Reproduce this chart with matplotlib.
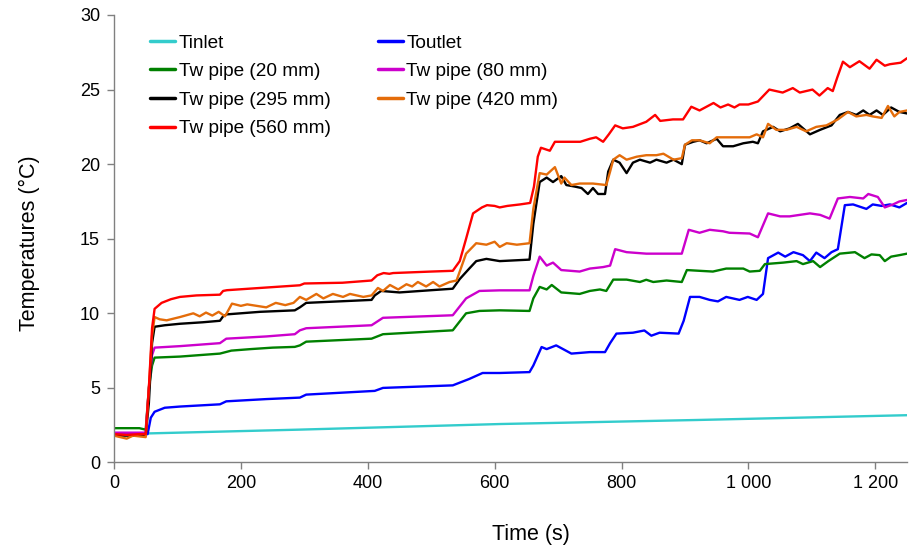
import matplotlib
matplotlib.use("Agg")
import matplotlib.pyplot as plt
from matplotlib.ticker import FuncFormatter, MultipleLocator

plt.rcParams['font.family'] = ['Liberation Sans', 'DejaVu Sans']

# ---- measured temperatures (°C) versus time (s) ----
t_inlet = [0, 55, 290, 610, 920, 1250]
T_inlet = [1.95, 1.95, 2.2, 2.58, 2.85, 3.17]

t_outlet = [0, 50, 53, 58, 64, 80, 104, 167, 177, 240, 293, 303, 411, 424, 534, 560,
            581, 608, 655, 661, 674, 682, 697, 721, 750, 774, 782, 792, 818, 836, 847,
            860, 890, 898, 908, 923, 939, 952, 965, 986, 999, 1013, 1023, 1031, 1047,
            1058, 1071, 1086, 1097, 1107, 1120, 1131, 1141, 1152, 1165, 1186, 1196,
            1210, 1223, 1238, 1250]
T_outlet = [1.9, 1.9, 1.9, 3.0, 3.4, 3.67, 3.75, 3.9, 4.1, 4.25, 4.35, 4.55, 4.8, 5.0,
            5.17, 5.6, 6.0, 6.0, 6.06, 6.5, 7.74, 7.6, 7.85, 7.3, 7.4, 7.4, 8.0, 8.64,
            8.7, 8.85, 8.5, 8.7, 8.64, 9.5, 11.1, 11.1, 10.9, 10.8, 11.1, 10.9, 11.1,
            10.9, 11.3, 13.7, 14.07, 13.8, 14.1, 13.9, 13.5, 14.07, 13.7, 14.1, 14.3,
            17.25, 17.3, 17.0, 17.3, 17.2, 17.3, 17.1, 17.4]

t_w20 = [0, 40, 50, 55, 60, 64, 104, 167, 185, 215, 250, 285, 293, 303, 406, 424, 534,
         555, 576, 608, 655, 661, 671, 682, 690, 705, 734, 750, 766, 776, 787, 808, 829,
         839, 850, 871, 895, 903, 923, 944, 965, 992, 1002, 1018, 1026, 1055, 1076,
         1086, 1102, 1113, 1126, 1144, 1168, 1183, 1194, 1207, 1215, 1225, 1238, 1250]
T_w20 = [2.3, 2.3, 2.2, 5.0, 6.5, 7.03, 7.1, 7.3, 7.5, 7.6, 7.7, 7.75, 7.85, 8.1, 8.3,
         8.6, 8.86, 10.0, 10.16, 10.2, 10.16, 11.0, 11.77, 11.6, 11.9, 11.4, 11.3, 11.5,
         11.6, 11.5, 12.26, 12.26, 12.1, 12.25, 12.1, 12.2, 12.1, 12.9, 12.85, 12.8,
         13.0, 13.0, 12.8, 12.85, 13.3, 13.4, 13.5, 13.3, 13.5, 13.1, 13.5, 14.0, 14.1,
         13.7, 13.95, 13.9, 13.5, 13.8, 13.9, 14.0]

t_w80 = [0, 50, 55, 60, 64, 104, 167, 177, 240, 285, 293, 303, 406, 424, 534, 555, 576,
         608, 655, 661, 671, 682, 692, 705, 734, 750, 771, 782, 790, 808, 839, 870, 895,
         906, 923, 939, 960, 970, 1002, 1015, 1031, 1050, 1065, 1081, 1097, 1113, 1128,
         1141, 1160, 1181, 1189, 1204, 1215, 1228, 1238, 1250]
T_w80 = [2.0, 2.0, 5.0, 7.2, 7.7, 7.8, 8.0, 8.3, 8.45, 8.6, 8.86, 9.0, 9.2, 9.7, 9.87,
         11.0, 11.5, 11.54, 11.54, 12.5, 13.8, 13.2, 13.4, 12.9, 12.8, 13.0, 13.1, 13.2,
         14.3, 14.1, 14.0, 14.0, 14.0, 15.6, 15.4, 15.6, 15.5, 15.4, 15.35, 15.1, 16.7,
         16.5, 16.5, 16.6, 16.7, 16.6, 16.35, 17.7, 17.8, 17.7, 18.0, 17.8, 17.1, 17.3,
         17.5, 17.6]

t_w295 = [0, 50, 55, 60, 64, 80, 104, 140, 167, 172, 178, 230, 285, 293, 303, 406, 411,
          421, 450, 500, 534, 545, 560, 571, 587, 608, 655, 661, 671, 682, 692, 705, 713,
          726, 737, 747, 755, 763, 774, 779, 787, 797, 808, 818, 829, 845, 855, 871, 882,
          895, 900, 913, 923, 934, 950, 960, 976, 992, 1007, 1015, 1023, 1039, 1050,
          1065, 1078, 1097, 1113, 1131, 1144, 1157, 1170, 1181, 1191, 1202, 1212, 1225,
          1238, 1250]
T_w295 = [1.8, 1.8, 4.0, 8.0, 9.1, 9.2, 9.3, 9.4, 9.5, 9.8, 9.93, 10.1, 10.2, 10.4, 10.7,
          10.9, 11.2, 11.5, 11.4, 11.55, 11.65, 12.3, 13.0, 13.5, 13.65, 13.5, 13.6,
          16.0, 18.8, 19.1, 18.8, 19.2, 18.6, 18.5, 18.4, 18.0, 18.4, 18.0, 18.0, 19.5,
          20.3, 20.1, 19.4, 20.1, 20.3, 20.1, 20.3, 20.1, 20.3, 20.0, 21.3, 21.5, 21.6,
          21.4, 21.7, 21.2, 21.2, 21.4, 21.5, 21.4, 22.2, 22.5, 22.2, 22.4, 22.7, 22.0,
          22.3, 22.6, 23.3, 23.5, 23.3, 23.6, 23.3, 23.6, 23.3, 23.8, 23.5, 23.4]

t_w420 = [0, 10, 20, 30, 40, 50, 55, 60, 64, 72, 83, 104, 125, 135, 145, 155, 165, 175,
          186, 200, 210, 240, 255, 270, 283, 293, 303, 319, 330, 345, 361, 372, 393, 406,
          416, 424, 435, 448, 461, 470, 479, 492, 503, 513, 529, 540, 555, 571, 587, 600,
          608, 619, 635, 655, 661, 671, 682, 695, 705, 710, 721, 734, 755, 776, 782, 787,
          797, 808, 824, 839, 855, 866, 882, 895, 900, 911, 923, 939, 950, 976, 1002,
          1013, 1023, 1031, 1044, 1060, 1076, 1091, 1107, 1123, 1141, 1157, 1170, 1186,
          1196, 1210, 1220, 1230, 1238, 1250]
T_w420 = [1.8, 1.7, 1.6, 1.8, 1.75, 1.7, 5.0, 8.5, 9.75, 9.6, 9.53, 9.75, 10.0, 9.8,
          10.05, 9.85, 10.1, 9.8, 10.65, 10.5, 10.6, 10.4, 10.7, 10.55, 10.7, 11.1, 10.9,
          11.3, 11.0, 11.3, 11.1, 11.3, 11.1, 11.2, 11.7, 11.5, 11.9, 11.6, 11.95, 11.8,
          12.1, 11.8, 12.1, 11.8, 12.1, 12.2, 14.0, 14.7, 14.6, 14.8, 14.45, 14.7, 14.6,
          14.7, 17.0, 19.4, 19.3, 19.8, 18.7, 19.1, 18.6, 18.7, 18.7, 18.6, 19.5, 20.3,
          20.6, 20.3, 20.5, 20.6, 20.6, 20.7, 20.3, 20.4, 21.3, 21.6, 21.6, 21.4, 21.8,
          21.8, 21.8, 22.0, 21.8, 22.7, 22.3, 22.3, 22.5, 22.2, 22.5, 22.6, 23.0, 23.5,
          23.2, 23.3, 23.2, 23.1, 23.9, 23.2, 23.5, 23.6]

t_w560 = [0, 20, 40, 50, 55, 60, 64, 75, 90, 104, 130, 167, 172, 178, 230, 293, 300,
          360, 406, 415, 425, 434, 440, 500, 534, 545, 555, 566, 580, 588, 600, 608, 620,
          640, 656, 662, 668, 673, 687, 695, 735, 750, 760, 771, 780, 790, 802, 818, 839,
          853, 861, 881, 897, 910, 923, 945, 956, 968, 978, 986, 1000, 1015, 1033, 1054,
          1070, 1081, 1101, 1112, 1125, 1133, 1140, 1149, 1160, 1175, 1191, 1202, 1215,
          1223, 1240, 1250]
T_w560 = [1.9, 1.85, 1.9, 1.9, 5.0, 9.0, 10.3, 10.7, 10.95, 11.1, 11.2, 11.25, 11.5,
          11.55, 11.7, 11.88, 12.0, 12.05, 12.2, 12.55, 12.7, 12.65, 12.7, 12.8, 12.85,
          13.5, 15.0, 16.7, 17.1, 17.25, 17.2, 17.1, 17.2, 17.3, 17.4, 18.5, 20.5, 21.1,
          20.9, 21.5, 21.5, 21.7, 21.8, 21.5, 22.0, 22.6, 22.4, 22.5, 22.84, 23.3, 22.9,
          23.0, 23.0, 23.85, 23.6, 24.1, 23.8, 24.0, 23.8, 24.0, 24.0, 24.2, 25.0, 24.8,
          25.1, 24.8, 25.0, 24.6, 25.1, 24.9, 25.8, 26.87, 26.5, 26.9, 26.4, 27.0, 26.6,
          26.7, 26.8, 27.1]

series = [
    ("Tinlet", t_inlet, T_inlet, "#33CCCC"),
    ("Toutlet", t_outlet, T_outlet, "#0000FF"),
    ("Tw pipe (20 mm)", t_w20, T_w20, "#008000"),
    ("Tw pipe (80 mm)", t_w80, T_w80, "#CC00CC"),
    ("Tw pipe (295 mm)", t_w295, T_w295, "#000000"),
    ("Tw pipe (420 mm)", t_w420, T_w420, "#E46C0A"),
    ("Tw pipe (560 mm)", t_w560, T_w560, "#FF0000"),
]

fig = plt.figure(figsize=(9.09, 5.47), dpi=100)
ax = fig.add_axes([0.1254, 0.1545, 0.8724, 0.8181])

lines = []
for name, t, T, col in series:
    ln, = ax.plot(t, T, color=col, lw=1.7, solid_joinstyle='round',
                  solid_capstyle='round', label=name)
    lines.append(ln)

ax.set_xlim(0, 1250)
ax.set_ylim(0, 30)
ax.xaxis.set_major_locator(MultipleLocator(200))
ax.yaxis.set_major_locator(MultipleLocator(5))
ax.xaxis.set_major_formatter(FuncFormatter(lambda v, p: f"{int(v):,}".replace(",", " ")))

for s in ("top", "right"):
    ax.spines[s].set_visible(False)
for s in ("left", "bottom"):
    ax.spines[s].set_color("#808080")
    ax.spines[s].set_linewidth(1.0)
ax.tick_params(axis="both", colors="#808080", labelcolor="black", labelsize=13,
               length=5, width=1.0, direction="out")
ax.tick_params(axis="x", pad=4)
ax.tick_params(axis="y", pad=5)

ax.set_xlabel("Time (s)", fontsize=15.5)
ax.xaxis.set_label_coords(0.526, -0.162)
ax.xaxis.label.set_va("center")
ax.set_ylabel("Temperatures (°C)", fontsize=15.5)
ax.yaxis.set_label_coords(-0.106, 0.49)
ax.yaxis.label.set_va("center")

# two legend columns filled row by row
order = [0, 2, 4, 6, 1, 3, 5]
leg = ax.legend([lines[i] for i in order], [series[i][0] for i in order],
                ncol=2, loc="upper left", bbox_to_anchor=(0.046, 0.957),
                frameon=False, fontsize=13.7, handlelength=1.3, handletextpad=0.18,
                columnspacing=2.5, labelspacing=0.59, borderpad=0, borderaxespad=0)
for h in leg.get_lines():
    h.set_linewidth(2.5)

fig.savefig("out.png", dpi=100)
